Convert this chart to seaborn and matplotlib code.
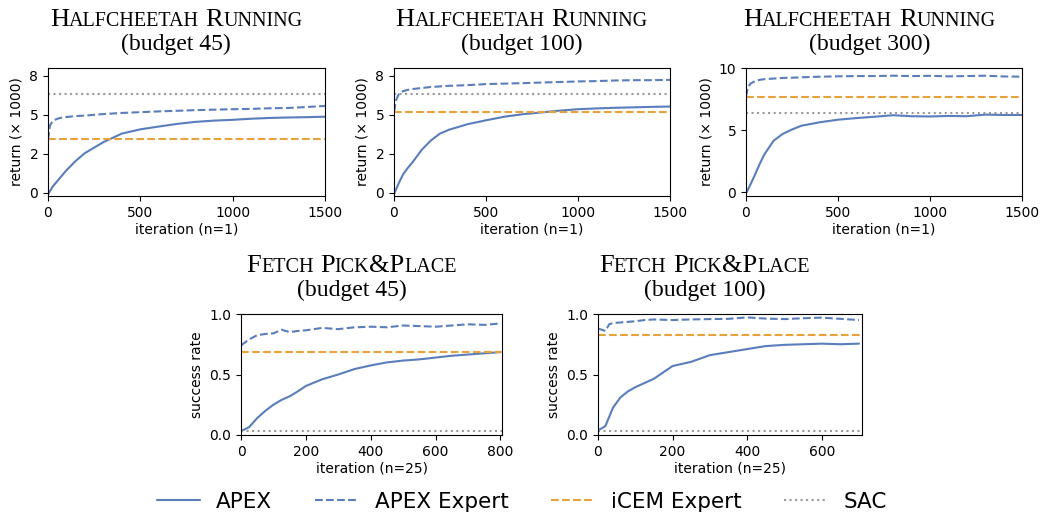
import numpy as np
import pandas as pd
import matplotlib
matplotlib.use("Agg")
import matplotlib.pyplot as plt
import seaborn as sns
from matplotlib.ticker import StrMethodFormatter

# --- data ------------------------------------------------------------------
hc_iter = [0, 10, 25, 50, 75, 100, 150, 200, 250, 300, 400, 500, 600, 700,
           800, 900, 1000, 1100, 1200, 1300, 1400, 1500]

hc45_apex = [-0.1, 0.1, 0.4, 0.75, 1.1, 1.45, 2.05, 2.55, 2.9, 3.25, 3.8, 4.07,
             4.25, 4.42, 4.55, 4.63, 4.68, 4.75, 4.8, 4.83, 4.85, 4.88]
hc45_expert = [3.4, 4.3, 4.6, 4.75, 4.82, 4.86, 4.92, 4.95, 5.0, 5.05, 5.12, 5.17,
               5.22, 5.26, 5.3, 5.33, 5.36, 5.38, 5.42, 5.44, 5.5, 5.57]
hc45_icem = 3.47

hc100_apex = [-0.1, 0.2, 0.6, 1.2, 1.6, 1.95, 2.75, 3.35, 3.8, 4.05, 4.4, 4.65,
              4.88, 5.04, 5.15, 5.27, 5.36, 5.41, 5.45, 5.48, 5.51, 5.53]
hc100_expert = [5.2, 5.9, 6.3, 6.52, 6.6, 6.65, 6.72, 6.78, 6.82, 6.86, 6.9, 6.97,
                7.0, 7.03, 7.07, 7.1, 7.14, 7.16, 7.2, 7.22, 7.22, 7.24]
hc100_icem = 5.21

hc300_apex = [-0.1, 0.2, 0.65, 1.45, 2.3, 3.05, 4.15, 4.7, 5.05, 5.35, 5.63, 5.84,
              5.97, 6.08, 6.2, 6.12, 6.1, 6.14, 6.12, 6.25, 6.22, 6.22]
hc300_expert = [7.7, 8.45, 8.75, 8.95, 9.05, 9.1, 9.15, 9.2, 9.22, 9.25, 9.3, 9.33,
                9.35, 9.35, 9.38, 9.35, 9.37, 9.33, 9.35, 9.38, 9.32, 9.3]
hc300_icem = 7.64
hc_sac = 6.35

fp45_iter = [0, 10, 25, 50, 75, 100, 125, 150, 175, 200, 250, 300, 350, 400,
             450, 500, 550, 600, 650, 700, 750, 800]
fp45_apex = [0.035, 0.045, 0.065, 0.14, 0.2, 0.25, 0.29, 0.32, 0.36, 0.405, 0.46,
             0.5, 0.545, 0.575, 0.6, 0.615, 0.625, 0.64, 0.655, 0.665, 0.675, 0.685]
fp45_expert = [0.74, 0.76, 0.79, 0.825, 0.835, 0.84, 0.87, 0.85, 0.86, 0.865, 0.885,
               0.875, 0.89, 0.895, 0.89, 0.905, 0.9, 0.895, 0.905, 0.915, 0.91, 0.922]
fp45_icem = 0.69

fp100_iter = [0, 10, 20, 30, 40, 60, 80, 100, 125, 150, 200, 250, 300, 350, 400,
              450, 500, 550, 600, 650, 700]
fp100_apex = [0.04, 0.055, 0.075, 0.15, 0.225, 0.31, 0.36, 0.395, 0.43, 0.465, 0.57,
              0.605, 0.66, 0.685, 0.71, 0.735, 0.745, 0.75, 0.755, 0.75, 0.755]
fp100_expert = [0.88, 0.87, 0.86, 0.915, 0.925, 0.93, 0.935, 0.94, 0.95, 0.955, 0.95,
                0.955, 0.958, 0.96, 0.972, 0.962, 0.958, 0.965, 0.97, 0.96, 0.95]
fp100_icem = 0.825
fp_sac = 0.033

BLUE = "#5a7dbc"
ORANGE = "#e9a23b"
GRAY = "#999999"
SERIF = "Liberation Serif"

sns.set_style("ticks")
plt.rcParams["font.family"] = ["DejaVu Sans"]
plt.rcParams.update({"text.color": "black", "axes.labelcolor": "black",
                     "xtick.color": "black", "ytick.color": "black"})

W, H = 1041, 514
fig = plt.figure(figsize=(W / 100, H / 100), dpi=100)


def px_axes(x0, x1, y0, y1):
    return fig.add_axes([x0 / W, 1 - y1 / H, (x1 - x0) / W, (y1 - y0) / H])


panels = [
    dict(rect=(48, 325, 68, 196), it=hc_iter, apex=hc45_apex, exp=hc45_expert,
         icem=hc45_icem, sac=hc_sac, env="Halfcheetah Running", budget="(budget 45)",
         xlim=(0, 1500), ylim=(-0.2, 8.0), yt=[0, 2.5, 5, 7.5], xl="iteration (n=1)",
         yl="return (× 1000)", xt=[0, 500, 1000, 1500]),
    dict(rect=(394, 670, 68, 196), it=hc_iter, apex=hc100_apex, exp=hc100_expert,
         icem=hc100_icem, sac=hc_sac, env="Halfcheetah Running", budget="(budget 100)",
         xlim=(0, 1500), ylim=(-0.2, 8.0), yt=[0, 2.5, 5, 7.5], xl="iteration (n=1)",
         yl="return (× 1000)", xt=[0, 500, 1000, 1500]),
    dict(rect=(746, 1022, 68, 196), it=hc_iter, apex=hc300_apex, exp=hc300_expert,
         icem=hc300_icem, sac=hc_sac, env="Halfcheetah Running", budget="(budget 300)",
         xlim=(0, 1500), ylim=(-0.3, 10.0), yt=[0, 5, 10], xl="iteration (n=1)",
         yl="return (× 1000)", xt=[0, 500, 1000, 1500]),
    dict(rect=(241, 502, 314, 435), it=fp45_iter, apex=fp45_apex, exp=fp45_expert,
         icem=fp45_icem, sac=fp_sac, env="Fetch Pick&Place", budget="(budget 45)",
         xlim=(0, 805), ylim=(0, 1.0), yt=[0, 0.5, 1.0], xl="iteration (n=25)",
         yl="success rate", xt=[0, 200, 400, 600, 800], fmt="{x:.1f}"),
    dict(rect=(598, 862, 314, 435), it=fp100_iter, apex=fp100_apex, exp=fp100_expert,
         icem=fp100_icem, sac=fp_sac, env="Fetch Pick&Place", budget="(budget 100)",
         xlim=(0, 708), ylim=(0, 1.0), yt=[0, 0.5, 1.0], xl="iteration (n=25)",
         yl="success rate", xt=[0, 200, 400, 600], fmt="{x:.1f}"),
]

axes = []
for p in panels:
    ax = px_axes(*p["rect"])
    df = pd.DataFrame({"iteration": p["it"], "APEX": p["apex"], "APEX Expert": p["exp"]})
    sns.lineplot(data=df, x="iteration", y="APEX", ax=ax, color=BLUE, lw=1.5,
                 label="APEX", legend=False)
    sns.lineplot(data=df, x="iteration", y="APEX Expert", ax=ax, color=BLUE, lw=1.5,
                 ls="--", label="APEX Expert", legend=False)
    ax.axhline(p["icem"], color=ORANGE, lw=1.5, ls="--", label="iCEM Expert")
    ax.axhline(p["sac"], color=GRAY, lw=1.5, ls=":", label="SAC")
    ax.set_xlim(*p["xlim"])
    ax.set_ylim(*p["ylim"])
    ax.set_xticks(p["xt"])
    ax.set_yticks(p["yt"])
    ax.yaxis.set_major_formatter(StrMethodFormatter(p.get("fmt", "{x:.0f}")))
    ax.tick_params(labelsize=10, length=3.5, color="black")
    for s in ax.spines.values():
        s.set_color("black")
        s.set_linewidth(0.8)
    ax.set_xlabel(p["xl"], fontsize=10, labelpad=2)
    ax.set_ylabel(p["yl"], fontsize=10)
    axes.append(ax)

handles, labels = axes[0].get_legend_handles_labels()
fig.legend(handles, labels, loc="center", bbox_to_anchor=(522 / W, 1 - 502 / H),
           ncol=4, frameon=False, fontsize=15.5, handlelength=2.0,
           handletextpad=0.75, columnspacing=2.0)

# small-caps titles, centred over each subplot's tight bbox
renderer = fig.canvas.get_renderer()
BIG, SMALL, LINE2 = 19, 14.5, 17


def sc_line(cx, ybase, text):
    runs = []
    for word in text.split(" "):
        if runs:
            runs.append((" ", None))
        for ch in word:
            kind = ch.islower()
            if runs and runs[-1][1] == kind:
                runs[-1] = (runs[-1][0] + ch, kind)
            else:
                runs.append((ch, kind))
    items = []
    for s, kind in runs:
        if kind is None:
            items.append((None, 0.25 * BIG * 100 / 72))
            continue
        t = fig.text(0, ybase / H, s.upper(), fontsize=SMALL if kind else BIG,
                     family=SERIF, va="baseline", ha="left")
        items.append((t, t.get_window_extent(renderer).width))
    total = sum(w for _, w in items)
    x = cx - total / 2
    for t, w in items:
        if t is not None:
            t.set_x(x / W)
        x += w


for ax, p in zip(axes, panels):
    bb = ax.get_tightbbox(renderer)
    cx = (bb.x0 + bb.x1) / 2
    top = ax.get_window_extent(renderer).y1
    fig.text(cx / W, (top + 18) / H, p["budget"], fontsize=LINE2, family=SERIF,
             ha="center", va="baseline")
    sc_line(cx, top + 42, p["env"])

fig.savefig("out.png", dpi=100)
